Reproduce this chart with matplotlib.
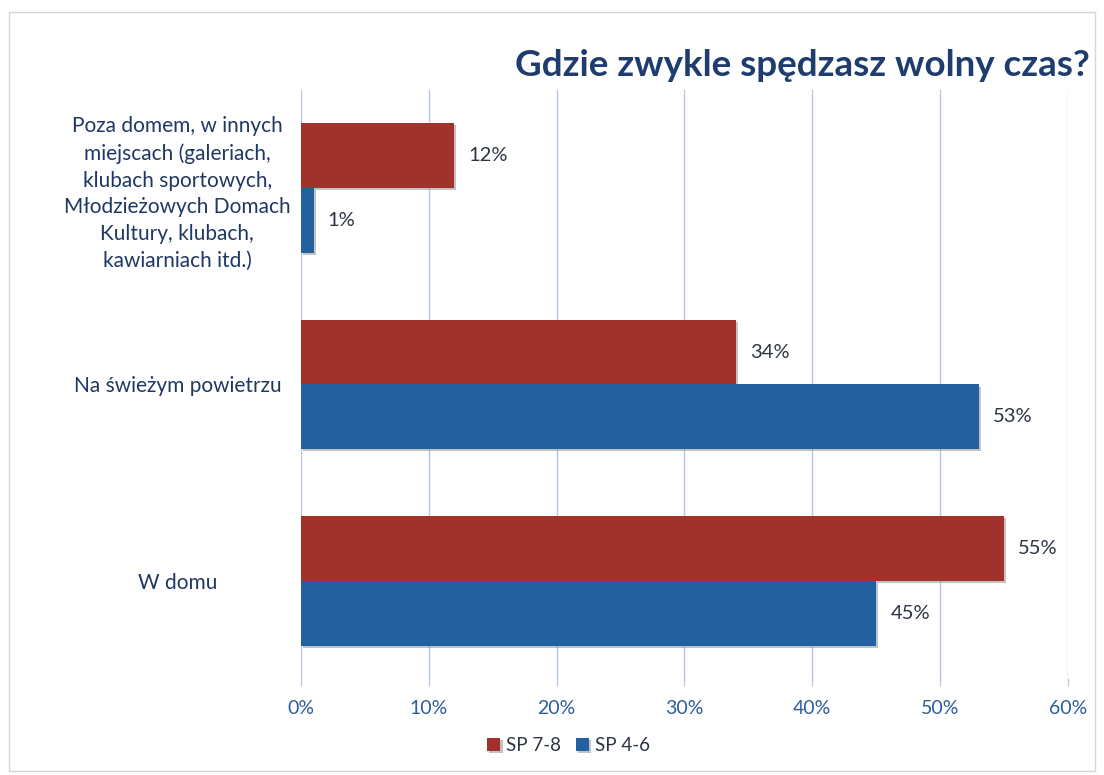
import matplotlib.pyplot as plt
import matplotlib.patheffects as pe
import numpy as np
from matplotlib.patches import Rectangle

# Data
categories = ['W domu', 'Na świeżym powietrzu',
              'Poza domem, w innych\nmiejscach (galeriach,\nklubach sportowych,\n'
              'Młodzieżowych Domach\nKultury, klubach,\nkawiarniach itd.)']
sp78 = [55, 34, 12]
sp46 = [45, 53, 1]
series_names = ['SP 7-8', 'SP 4-6']
xticks = [0, 10, 20, 30, 40, 50, 60]

RED = '#A1312B'
BLUE = '#22609F'
TXT = '#1F3864'
TICK = '#2E5C9A'
GRID = '#B9C7DD'

plt.rcParams['font.family'] = ['Lato', 'DejaVu Sans']

fig = plt.figure(figsize=(11.04, 7.75), dpi=100)
ax = fig.add_axes([0.2726, 0.1239, 0.6948, 0.76])

y = np.arange(len(categories))
h = 0.33
shadow = [pe.SimplePatchShadow(offset=(1.5, -1.5), shadow_rgbFace='#888888', alpha=0.5), pe.Normal()]
bars_red = ax.barh(y + h / 2, sp78, height=h, color=RED, label=series_names[0], zorder=3)
bars_blue = ax.barh(y - h / 2, sp46, height=h, color=BLUE, label=series_names[1], zorder=3)
for b in list(bars_red) + list(bars_blue):
    b.set_path_effects(shadow)

for vals, off in ((sp78, h / 2), (sp46, -h / 2)):
    for i, v in enumerate(vals):
        ax.text(v + 1.1, i + off, f'{v}%', va='center', ha='left', fontsize=14.5, color='#2B3440')

ax.set_xlim(0, 60)
ax.set_ylim(-0.5, 2.5)
ax.set_xticks(xticks)
ax.set_xticklabels([f'{t}%' for t in xticks], fontsize=14, color=TICK)
ax.set_yticks(y)
ax.set_yticklabels(categories, fontsize=15, color=TXT, ha='center', linespacing=1.42)
ax.tick_params(axis='y', length=0, pad=89)
ax.tick_params(axis='x', length=0, pad=15)
ax.grid(axis='x', color=GRID, linewidth=1, zorder=0)
for s in ax.spines.values():
    s.set_visible(False)
for t in xticks:
    ax.plot([t, t], [-0.5, -0.53], color=GRID, lw=1, clip_on=False)

fig.text(0.987, 0.915, 'Gdzie zwykle spędzasz wolny czas?', ha='right', va='center',
         fontsize=26.5, fontweight='bold', color='#1E3C6E')

leg = fig.legend(handles=[bars_red, bars_blue], labels=series_names, loc='center',
                 bbox_to_anchor=(0.515, 0.038), ncol=2, frameon=False, fontsize=13.5,
                 handlelength=0.7, handleheight=0.7, columnspacing=0.8, handletextpad=0.3)
for t in leg.get_texts():
    t.set_color('#2B3440')

fig.patches.append(Rectangle((0.008, 0.005), 0.984, 0.98, transform=fig.transFigure,
                             fill=False, edgecolor='#D5D5D5', lw=1))

fig.savefig('out.png', dpi=100, facecolor='white')
